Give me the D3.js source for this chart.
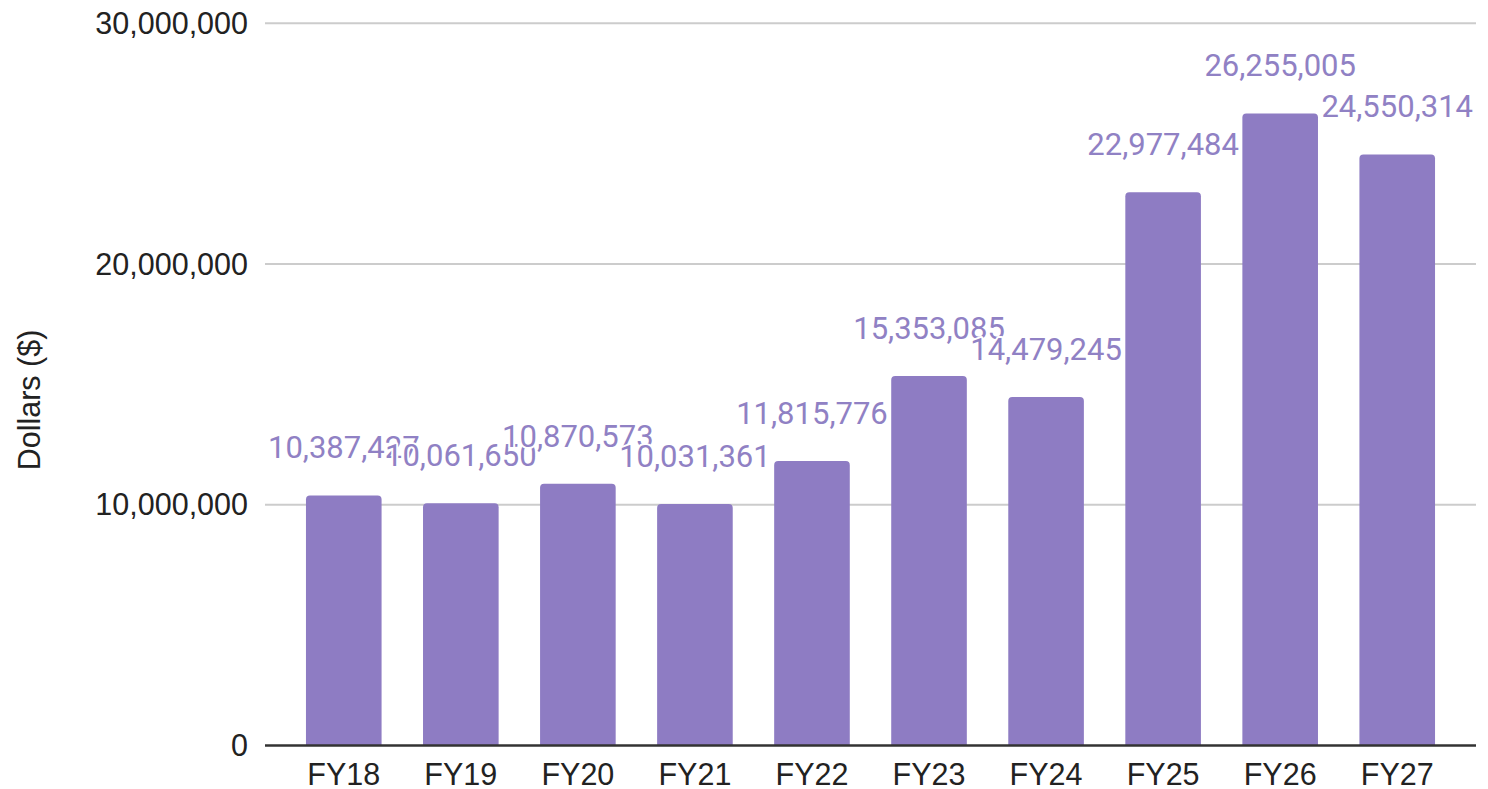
<!DOCTYPE html>
<html>
<head>
<meta charset="utf-8">
<script src="https://cdn.jsdelivr.net/npm/d3@7"></script>
<style>
    html, body { margin: 0; padding: 0; background: #fff; }
    svg { display: block; }
    .tick-label { font-family: "Liberation Sans", Arial, sans-serif; font-size: 30.5px; fill: #222; }
    .value-label {
        font-family: Roboto, "Noto Sans", sans-serif; font-size: 31px; fill: #9081c4;
        stroke: #fff; stroke-width: 4px; paint-order: stroke; stroke-linejoin: round;
    }
</style>
</head>
<body>
<div id="chart"></div>
<script>
const categories = ['FY18', 'FY19', 'FY20', 'FY21', 'FY22', 'FY23', 'FY24', 'FY25', 'FY26', 'FY27'];
const values = [10387427, 10061650, 10870573, 10031361, 11815776, 15353085, 14479245, 22977484, 26255005, 24550314];
const yTicks = [0, 10000000, 20000000, 30000000];
const yLabel = 'Dollars ($)';

const width = 1488;
const height = 789;
const barColor = '#8e7cc3';

const svg = d3.select('#chart').append('svg')
    .attr('width', width)
    .attr('height', height);

const x = d3.scaleBand()
    .domain(categories)
    .range([265, 1476])
    .paddingInner(0.354)
    .paddingOuter(0.35);

const y = d3.scaleLinear()
    .domain([0, 30000000])
    .range([745.5, 23.3]);

const fmt = d3.format(',');

// gridlines
svg.append('g')
    .selectAll('line')
    .data(yTicks.slice(1))
    .enter().append('line')
    .attr('x1', 265)
    .attr('x2', 1476)
    .attr('y1', d => y(d))
    .attr('y2', d => y(d))
    .attr('stroke', '#cccccc')
    .attr('stroke-width', 2);

// y tick labels
svg.append('g')
    .selectAll('text')
    .data(yTicks)
    .enter().append('text')
    .attr('class', 'tick-label')
    .attr('x', 248)
    .attr('y', d => y(d))
    .attr('dy', '0.35em')
    .attr('text-anchor', 'end')
    .text(d => fmt(d));

// y axis title
svg.append('text')
    .attr('class', 'tick-label')
    .attr('transform', `translate(40, ${400}) rotate(-90)`)
    .attr('text-anchor', 'middle')
    .text(yLabel);

// bars with rounded top corners
const r = 4;
function barPath(d, i) {
    const x0 = x(categories[i]);
    const w = x.bandwidth();
    const y0 = y(d);
    const yb = y(0);
    return `M${x0},${yb} L${x0},${y0 + r} Q${x0},${y0} ${x0 + r},${y0} ` +
        `L${x0 + w - r},${y0} Q${x0 + w},${y0} ${x0 + w},${y0 + r} L${x0 + w},${yb} Z`;
}

svg.append('g')
    .selectAll('path')
    .data(values)
    .enter().append('path')
    .attr('d', barPath)
    .attr('fill', barColor);

// baseline
svg.append('line')
    .attr('x1', 265)
    .attr('x2', 1476)
    .attr('y1', y(0))
    .attr('y2', y(0))
    .attr('stroke', '#333')
    .attr('stroke-width', 2.5);

// value labels (later ones drawn over earlier ones with a white halo)
svg.append('g')
    .selectAll('text')
    .data(values)
    .enter().append('text')
    .attr('class', 'value-label')
    .attr('x', (d, i) => x(categories[i]) + x.bandwidth() / 2)
    .attr('y', d => y(d) - 37)
    .attr('text-anchor', 'middle')
    .text(d => fmt(d));

// x labels
svg.append('g')
    .selectAll('text')
    .data(categories)
    .enter().append('text')
    .attr('class', 'tick-label')
    .attr('x', d => x(d) + x.bandwidth() / 2)
    .attr('y', 785)
    .attr('text-anchor', 'middle')
    .text(d => d);
</script>
</body>
</html>
